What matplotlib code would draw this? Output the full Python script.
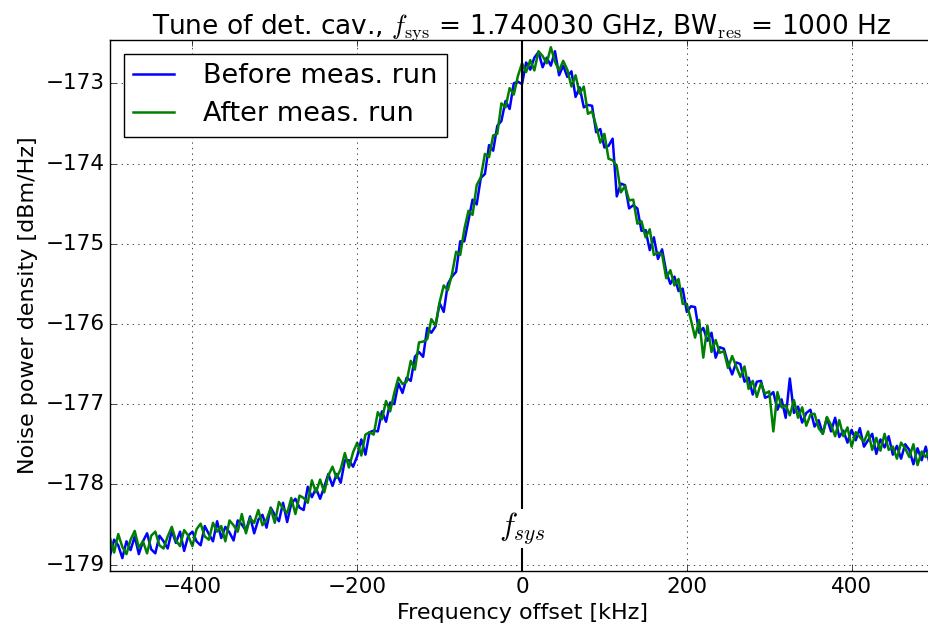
import numpy as np
import matplotlib
matplotlib.use('Agg')
import matplotlib.pyplot as plt

# frequency offset grid [kHz], 5 kHz steps
freq_khz = np.arange(-500, 501, 5)

# noise power density [dBm/Hz]
before_run = [
  -178.89, -178.69, -178.76, -178.92, -178.71, -178.82, -178.65, -178.87, -178.71, -178.61,
  -178.81, -178.86, -178.64, -178.71, -178.80, -178.58, -178.73, -178.59, -178.83, -178.64,
  -178.59, -178.71, -178.76, -178.52, -178.62, -178.71, -178.46, -178.67, -178.53, -178.60,
  -178.70, -178.45, -178.50, -178.58, -178.40, -178.61, -178.44, -178.38, -178.54, -178.29,
  -178.38, -178.46, -178.23, -178.47, -178.24, -178.18, -178.29, -178.32, -178.03, -178.16,
  -178.05, -178.18, -178.03, -177.87, -178.02, -177.87, -177.98, -177.70, -177.70, -177.78,
  -177.65, -177.44, -177.63, -177.35, -177.33, -177.34, -177.09, -177.22, -176.98, -177.00,
  -176.74, -176.86, -176.67, -176.71, -176.41, -176.35, -176.41, -176.05, -176.11, -176.03,
  -175.74, -175.85, -175.50, -175.41, -175.35, -174.97, -174.97, -174.71, -174.45, -174.51,
  -174.18, -174.13, -173.77, -173.84, -173.53, -173.47, -173.22, -173.32, -173.00, -172.98,
  -173.01, -172.74, -172.83, -172.68, -172.61, -172.80, -172.68, -172.78, -172.60, -172.90,
  -172.78, -172.92, -172.85, -173.17, -173.05, -173.30, -173.27, -173.28, -173.61, -173.57,
  -173.80, -173.78, -173.69, -174.41, -174.25, -174.27, -174.56, -174.52, -174.56, -174.84,
  -174.83, -175.08, -174.92, -175.19, -175.07, -175.35, -175.50, -175.41, -175.59, -175.56,
  -175.85, -175.78, -175.79, -176.11, -176.05, -176.21, -176.11, -176.42, -176.29, -176.31,
  -176.49, -176.63, -176.48, -176.50, -176.72, -176.67, -176.88, -176.72, -176.71, -176.92,
  -176.90, -176.85, -177.07, -176.94, -177.17, -176.68, -177.11, -177.03, -177.23, -177.11,
  -177.07, -177.28, -177.20, -177.37, -177.17, -177.34, -177.17, -177.41, -177.33, -177.48,
  -177.32, -177.45, -177.30, -177.53, -177.45, -177.37, -177.62, -177.44, -177.54, -177.40,
  -177.63, -177.52, -177.68, -177.50, -177.57, -177.75, -177.55, -177.70, -177.53, -177.76,
  -177.62,
]
after_run = [
  -178.67, -178.85, -178.62, -178.78, -178.87, -178.69, -178.58, -178.79, -178.71, -178.86,
  -178.64, -178.59, -178.76, -178.80, -178.65, -178.53, -178.70, -178.77, -178.57, -178.64,
  -178.77, -178.56, -178.49, -178.65, -178.69, -178.48, -178.59, -178.52, -178.71, -178.45,
  -178.51, -178.59, -178.37, -178.61, -178.42, -178.48, -178.32, -178.51, -178.44, -178.30,
  -178.48, -178.22, -178.30, -178.36, -178.17, -178.37, -178.14, -178.17, -178.23, -177.95,
  -178.10, -177.94, -178.10, -177.89, -177.78, -177.92, -177.81, -177.61, -177.79, -177.60,
  -177.48, -177.64, -177.38, -177.35, -177.38, -177.10, -177.19, -176.96, -177.09, -176.86,
  -176.67, -176.75, -176.72, -176.46, -176.57, -176.23, -176.22, -176.19, -175.94, -176.02,
  -175.73, -175.52, -175.58, -175.38, -175.10, -175.14, -174.82, -174.59, -174.64, -174.27,
  -174.17, -173.88, -173.92, -173.65, -173.63, -173.25, -173.30, -173.06, -173.14, -172.91,
  -172.75, -172.86, -172.71, -172.84, -172.60, -172.66, -172.75, -172.55, -172.73, -172.84,
  -172.72, -172.83, -173.04, -172.90, -173.13, -173.04, -173.38, -173.35, -173.53, -173.74,
  -173.63, -173.94, -173.96, -174.03, -174.36, -174.28, -174.46, -174.45, -174.75, -174.72,
  -174.92, -174.82, -175.14, -175.11, -175.13, -175.43, -175.33, -175.52, -175.44, -175.75,
  -175.75, -175.95, -176.17, -175.95, -176.42, -176.02, -176.35, -176.20, -176.36, -176.34,
  -176.55, -176.40, -176.53, -176.66, -176.53, -176.81, -176.71, -176.91, -176.74, -176.87,
  -176.84, -177.34, -176.85, -177.04, -177.01, -177.14, -176.95, -177.17, -177.04, -177.27,
  -177.13, -177.12, -177.30, -177.37, -177.16, -177.26, -177.40, -177.20, -177.40, -177.29,
  -177.53, -177.35, -177.41, -177.47, -177.34, -177.57, -177.42, -177.58, -177.37, -177.57,
  -177.53, -177.68, -177.48, -177.55, -177.66, -177.50, -177.76, -177.59, -177.66, -177.56,
  -177.74,
]

plt.style.use('classic')
plt.rcParams['figure.facecolor'] = 'white'
plt.rcParams['mathtext.fontset'] = 'cm'

fig = plt.figure(figsize=(9.29, 6.26), dpi=100)
ax = fig.add_axes([0.1184, 0.0879, 0.887, 0.8482])

ax.plot(freq_khz, before_run, color='b', lw=1.8, label='Before meas. run')
ax.plot(freq_khz, after_run, color=(0, 0.5, 0), lw=1.8, label='After meas. run')
ax.axvline(0, color='k', lw=1.5, zorder=5)
ax.text(0, -178.55, r'$f_{sys}$', fontsize=22, ha='center', va='center', zorder=6,
        bbox=dict(facecolor='white', edgecolor='none', pad=1))

ax.set_xlim(-500, 500)
ax.set_ylim(-179.08, -172.46)
ax.set_xticks([-400, -200, 0, 200, 400])
ax.set_yticks([-179, -178, -177, -176, -175, -174, -173])
ax.ticklabel_format(useOffset=False)
ax.tick_params(labelsize=15.5)
ax.grid(True)

ax.set_xlabel('Frequency offset [kHz]', fontsize=16)
ax.set_ylabel('Noise power density [dBm/Hz]', fontsize=16)
ax.set_title(r'Tune of det. cav., $f_{\rm sys}$ = 1.740030 GHz, BW$_{\rm res}$ = 1000 Hz', fontsize=19)
ax.legend(loc='upper left', fontsize=19.5, handlelength=1.5, handletextpad=1.1,
          labelspacing=0.45, borderpad=0.35, numpoints=1)

fig.savefig('out.png', dpi=100)
